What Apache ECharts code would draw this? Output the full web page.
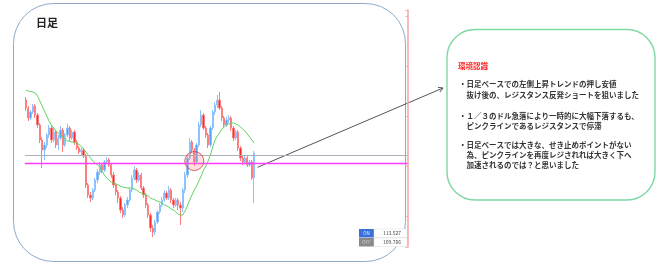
<!DOCTYPE html>
<html>
<head>
<meta charset="utf-8">
<script src="https://cdn.jsdelivr.net/npm/echarts@6/dist/echarts.min.js"></script>
<style>
html,body{margin:0;padding:0;background:#fff;}
#chart{width:660px;height:266px;}
</style>
</head>
<body>
<div id="chart"></div>
<script>
// ---- data ----
const title = '日足';
// daily candles: [open, close, low, high]
const candles = [
[116.6,115.8,115.5,116.9],[115.8,114.8,114.5,116.0],[114.8,115.4,114.6,115.6],[115.4,116.0,115.2,116.2],[116.0,115.1,114.8,116.2],
[115.1,114.1,113.8,115.3],[114.1,112.6,112.3,114.3],[112.6,111.6,109.8,112.9],[111.6,112.1,110.6,112.4],[112.1,113.1,111.8,113.3],
[113.1,113.8,112.8,114.1],[113.8,112.6,112.3,114.0],[112.6,113.4,112.4,113.9],[113.4,112.1,111.8,113.6],[112.1,112.8,111.6,113.1],
[112.8,113.6,112.6,114.0],[113.6,112.1,111.4,113.8],[112.1,113.1,111.9,113.3],[113.1,113.8,112.9,114.2],[113.8,112.8,112.5,114.0],
[112.8,113.4,112.6,113.6],[113.4,112.4,112.1,113.6],[112.4,111.8,111.6,112.6],[111.8,111.4,111.2,112.0],[111.4,111.6,111.1,111.8],
[111.6,111.0,110.8,111.8],[111.0,108.1,107.8,111.2],[108.1,107.1,106.8,108.3],[107.1,106.8,106.4,107.4],[106.8,107.6,106.6,107.8],
[107.6,108.6,107.4,108.8],[108.6,109.4,108.3,109.7],[109.4,110.1,109.1,110.4],[110.1,109.6,109.3,110.3],[109.6,110.4,109.4,110.6],
[110.4,110.6,110.2,110.9],[110.6,110.1,109.9,110.8],[110.1,109.1,108.8,110.3],[109.1,108.1,107.8,109.4],[108.1,107.4,107.1,108.3],
[107.4,106.8,106.3,107.6],[106.8,105.6,105.3,107.0],[105.6,105.1,104.8,105.9],[105.1,106.1,104.9,106.3],[106.1,106.6,105.8,106.9],
[106.6,107.6,106.4,107.8],[107.6,108.8,107.4,109.1],[108.8,109.6,108.6,110.0],[109.6,108.6,108.3,109.8],[108.6,109.1,108.4,109.4],
[109.1,107.8,107.6,109.3],[107.8,107.1,106.8,108.0],[107.1,106.1,105.8,107.3],[106.1,105.1,104.8,106.3],[105.1,103.8,103.4,105.3],
[103.8,103.4,102.9,104.1],[103.4,104.4,103.1,104.6],[104.4,105.4,104.2,105.6],[105.4,106.1,105.2,106.3],[106.1,106.6,105.9,106.9],
[106.6,107.3,106.4,107.6],[107.3,106.8,106.6,107.5],[106.8,107.6,106.6,108.0],[107.6,106.6,106.3,107.8],[106.6,106.1,105.8,106.8],
[106.1,106.6,105.9,106.8],[106.6,106.1,105.6,106.8],[106.1,105.8,104.1,106.4],[105.8,107.6,105.4,107.8],[107.6,109.1,107.3,109.4],
[109.1,110.8,108.8,111.1],[110.8,112.4,110.6,112.8],[112.4,111.6,111.3,112.6],[111.6,110.4,110.0,111.8],[110.4,112.1,110.2,112.3],
[112.1,114.1,111.9,114.4],[114.1,115.1,113.9,115.6],[115.1,113.8,113.6,115.3],[113.8,113.1,112.8,114.0],[113.1,112.1,111.8,113.3],
[112.1,113.8,111.9,114.0],[113.8,115.4,113.6,115.6],[115.4,116.1,115.1,116.4],[116.1,116.6,115.8,117.1],[116.6,115.8,115.6,117.4],
[115.8,114.8,114.5,116.0],[114.8,114.1,113.8,115.0],[114.1,114.6,113.9,114.9],[114.6,114.8,114.3,115.1],[114.8,113.8,113.5,115.0],
[113.8,112.8,112.5,114.0],[112.8,113.4,112.6,113.6],[113.4,111.8,111.5,113.6],[111.8,110.8,110.5,112.0],[110.8,110.4,110.1,111.1],
[110.4,110.8,110.2,111.0],[110.8,110.1,109.9,111.0],[110.1,110.4,109.9,110.6],[110.4,108.8,108.6,110.6],[108.8,111.3,106.3,111.5]
];
// moving average
const movingAverage = [
117.6,117.5,117.45,117.4,117.3,117.0,116.5,116.0,115.5,115.0,
114.5,114.1,113.8,113.5,113.3,113.1,112.9,112.7,112.5,112.45,
112.4,112.35,112.3,112.15,111.95,111.7,111.4,111.1,110.8,110.5,
110.3,110.1,109.9,109.5,109.1,108.8,108.6,108.4,108.3,108.2,
108.1,108.0,107.9,107.85,107.8,107.8,107.8,107.7,107.6,107.4,
107.3,107.2,107.1,107.0,106.8,106.7,106.6,106.5,106.4,106.3,
106.1,106.0,105.9,105.7,105.6,105.4,105.2,105.1,105.1,105.5,
106.0,106.6,107.1,107.6,108.0,108.5,109.0,109.6,110.0,110.5,
111.1,111.9,112.6,113.0,113.3,113.7,113.9,114.1,114.2,114.3,
114.3,114.2,114.1,113.9,113.7,113.5,113.2,112.9,112.6,112.3
];
const totalSlots = 166;               // chart width in daily slots (incl. empty right margin)
const categories = Array.from({length: totalSlots}, (_, i) => String(i + 1));
const greyLevel = 111.1;
const pinkLevel = 110.3;
const highlight = [[73, 110.5]];
const onValue = '113.527';
const offValue = '109.766';
const noteHeading = '環境認識';
const noteLines = [
  '・日足ベースでの左側上昇トレンドの押し安値',
  '　抜け後の、レジスタンス反発ショートを狙いました',
  '・１／３のドル急落により一時的に大幅下落するも、',
  '　ピンクラインであるレジスタンスで停滞',
  '・日足ベースでは大きな、せき止めポイントがない',
  '　為、ピンクラインを再度レジされれば大きく下へ',
  '　加速されるのでは？と思いました'
];
const noteLineY = [84, 95, 116, 126, 145, 155, 165];

// ---- chart ----
const chart = echarts.init(document.getElementById('chart'), null, {renderer: 'canvas'});
const FONT = '"Noto Sans CJK JP", "Noto Sans", sans-serif';

const graphics = [
  {type: 'rect', shape: {x: 13.5, y: 3.5, width: 392, height: 258, r: 40}, style: {fill: 'none', stroke: '#8fabc9', lineWidth: 1}, z: 0},
  {type: 'text', style: {text: title, x: 36, y: 22.5, fill: '#222', font: 'bold 11px ' + FONT, verticalAlign: 'middle'}},
  {type: 'rect', shape: {x: 447, y: 29.5, width: 208, height: 170.5, r: 28}, style: {fill: '#fff', stroke: '#7fd9a3', lineWidth: 1.4}},
  {type: 'text', style: {text: noteHeading, x: 458, y: 66, fill: '#ff2a2a', font: 'bold 7.5px ' + FONT, verticalAlign: 'middle'}},
  {type: 'line', shape: {x1: 257.5, y1: 167.3, x2: 443, y2: 88}, style: {stroke: '#555', lineWidth: 1}},
  {type: 'polyline', shape: {points: [[438, 87.4], [443, 88], [440, 92]]}, style: {stroke: '#555', lineWidth: 1, fill: 'none'}},
  // ON / OFF widget
  {type: 'rect', shape: {x: 359, y: 229, width: 15, height: 8.5}, style: {fill: '#3b6fd9'}},
  {type: 'rect', shape: {x: 374, y: 229, width: 33, height: 8.5}, style: {fill: '#fff', stroke: '#ddd', lineWidth: 0.5}},
  {type: 'rect', shape: {x: 359, y: 238, width: 15, height: 8.5}, style: {fill: '#8a8a8a'}},
  {type: 'rect', shape: {x: 374, y: 238, width: 33, height: 8.5}, style: {fill: '#fff', stroke: '#ddd', lineWidth: 0.5}},
  {type: 'text', style: {text: 'ON', x: 366.5, y: 233.3, fill: '#dfe8ff', font: '4.5px ' + FONT, align: 'center', verticalAlign: 'middle'}},
  {type: 'text', style: {text: 'OFF', x: 366.5, y: 242.3, fill: '#d0d0d0', font: '4.5px ' + FONT, align: 'center', verticalAlign: 'middle'}},
  {type: 'text', style: {text: onValue, x: 392, y: 233.3, fill: '#444', font: '5px ' + FONT, align: 'center', verticalAlign: 'middle'}},
  {type: 'text', style: {text: offValue, x: 392, y: 242.3, fill: '#444', font: '5px ' + FONT, align: 'center', verticalAlign: 'middle'}}
];
noteLines.forEach((t, i) => {
  graphics.push({type: 'text', style: {text: t, x: 459, y: noteLineY[i], fill: '#333', font: 'bold 7.5px ' + FONT, verticalAlign: 'middle'}});
});

chart.setOption({
  animation: false,
  backgroundColor: '#fff',
  grid: {left: 24.85, right: 252.5, top: 10, bottom: 19, containLabel: false},
  xAxis: {type: 'category', data: categories, boundaryGap: true, show: false},
  yAxis: {
    type: 'value', min: 101.9, max: 125.6, position: 'right', scale: true,
    axisLine: {show: true, lineStyle: {color: '#f4a5a5', width: 1.5}},
    axisTick: {show: true, inside: true, length: 2, lineStyle: {color: '#f4a5a5'}},
    axisLabel: {show: false}, splitLine: {show: false}
  },
  series: [
    {
      type: 'candlestick', data: candles, barWidth: 1.8,
      itemStyle: {color: '#4da3ff', color0: '#ff2626', borderColor: '#8cc3ff', borderColor0: '#ff7d7d', borderWidth: 1},
      markLine: {
        silent: true, symbol: 'none', label: {show: false},
        data: [
          {yAxis: greyLevel, lineStyle: {color: '#a9b1ba', width: 1, type: 'solid'}},
          {yAxis: pinkLevel, lineStyle: {color: '#ff3cff', width: 1.3, type: 'solid'}}
        ]
      },
      z: 3
    },
    {
      type: 'line', data: movingAverage, showSymbol: false, symbol: 'none',
      lineStyle: {color: '#5fd35f', width: 1}, z: 4
    },
    {
      type: 'scatter', data: highlight, symbolSize: 19,
      itemStyle: {color: 'rgba(255,140,140,0.35)', borderColor: '#e23b3b', borderWidth: 1}, z: 5
    }
  ],
  graphic: graphics
});
</script>
</body>
</html>
